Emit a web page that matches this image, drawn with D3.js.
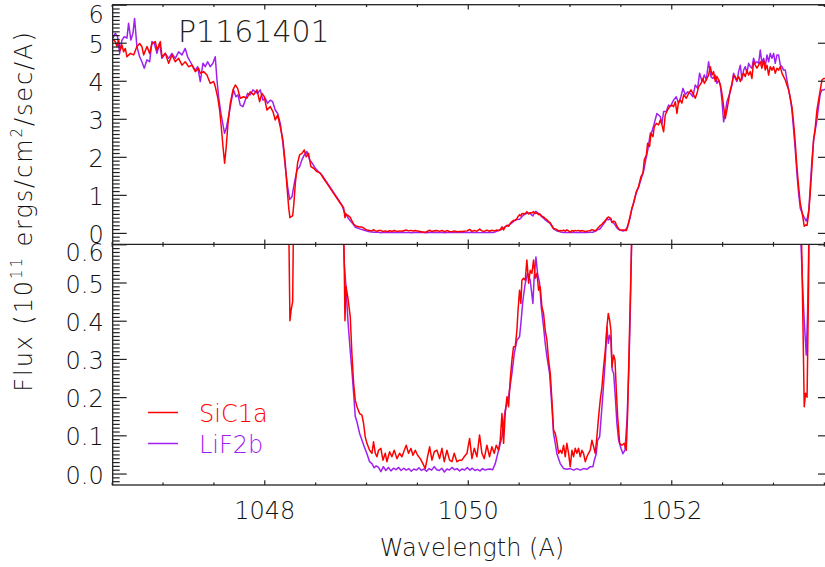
<!DOCTYPE html>
<html><head><meta charset="utf-8">
<script src="https://cdn.jsdelivr.net/npm/d3@7"></script>
<style>body{margin:0;background:#fff}svg{display:block}</style>
</head><body><svg id="chart" width="825" height="567"></svg>
<script>
// ---------------- DATA ----------------
const sicWave = [
1046.512,1046.535,1046.552,1046.568,1046.585,1046.601,1046.617,1046.634,1046.650,1046.683,
1046.716,1046.748,1046.775,1046.797,1046.814,1046.847,1046.873,1046.896,1046.929,1046.945,
1046.978,1046.994,1047.027,1047.060,1047.092,1047.125,1047.158,1047.191,1047.223,1047.256,
1047.289,1047.322,1047.354,1047.371,1047.404,1047.436,1047.469,1047.502,1047.518,1047.541,
1047.561,1047.577,1047.594,1047.610,1047.626,1047.643,1047.666,1047.692,1047.715,1047.738,
1047.764,1047.797,1047.829,1047.862,1047.895,1047.928,1047.954,1047.977,1048.000,1048.026,
1048.059,1048.085,1048.108,1048.131,1048.157,1048.183,1048.206,1048.223,1048.240,1048.252,
1048.265,1048.279,1048.290,1048.305,1048.327,1048.347,1048.370,1048.393,1048.412,1048.435,
1048.458,1048.485,1048.517,1048.550,1048.583,1048.616,1048.648,1048.681,1048.714,1048.747,
1048.780,1048.793,1048.803,1048.822,1048.845,1048.861,1048.878,1048.894,1048.911,1048.937,
1048.960,1048.976,1048.992,1049.009,1049.035,1049.058,1049.074,1049.091,1049.107,1049.123,
1049.146,1049.166,1049.189,1049.205,1049.232,1049.254,1049.277,1049.304,1049.330,1049.353,
1049.376,1049.395,1049.418,1049.441,1049.461,1049.484,1049.507,1049.533,1049.559,1049.582,
1049.605,1049.625,1049.648,1049.671,1049.697,1049.723,1049.746,1049.769,1049.795,1049.821,
1049.844,1049.867,1049.893,1049.920,1049.942,1049.965,1049.992,1050.018,1050.041,1050.064,
1050.090,1050.116,1050.139,1050.162,1050.188,1050.214,1050.237,1050.260,1050.280,1050.303,
1050.319,1050.336,1050.352,1050.368,1050.385,1050.401,1050.417,1050.434,1050.450,1050.467,
1050.483,1050.493,1050.509,1050.522,1050.532,1050.548,1050.565,1050.581,1050.598,1050.614,
1050.630,1050.647,1050.663,1050.680,1050.696,1050.712,1050.729,1050.745,1050.761,1050.778,
1050.794,1050.811,1050.827,1050.843,1050.860,1050.876,1050.893,1050.909,1050.925,1050.942,
1050.958,1050.974,1050.991,1051.007,1051.024,1051.040,1051.056,1051.073,1051.089,1051.105,
1051.122,1051.138,1051.155,1051.171,1051.187,1051.204,1051.220,1051.237,1051.253,1051.269,
1051.286,1051.302,1051.319,1051.335,1051.352,1051.368,1051.381,1051.394,1051.407,1051.417,
1051.434,1051.447,1051.460,1051.473,1051.493,1051.515,1051.538,1051.558,1051.571,1051.584,
1051.597,1051.614,1051.630,1051.656,1051.679,1051.702,1051.722,1051.735,1051.755,1051.768,
1051.787,1051.801,1051.820,1051.833,1051.853,1051.876,1051.892,1051.909,1051.925,1051.941,
1051.964,1051.984,1052.007,1052.023,1052.040,1052.056,1052.072,1052.089,1052.105,1052.122,
1052.148,1052.171,1052.194,1052.220,1052.236,1052.253,1052.269,1052.292,1052.312,1052.325,
1052.344,1052.367,1052.384,1052.400,1052.416,1052.433,1052.449,1052.466,1052.482,1052.498,
1052.515,1052.531,1052.547,1052.564,1052.580,1052.597,1052.613,1052.629,1052.646,1052.662,
1052.679,1052.695,1052.711,1052.728,1052.744,1052.760,1052.777,1052.793,1052.809,1052.826,
1052.842,1052.859,1052.875,1052.891,1052.908,1052.924,1052.941,1052.957,1052.973,1052.990,
1053.006,1053.022,1053.039,1053.055,1053.072,1053.088,1053.104,1053.121,1053.137,1053.154,
1053.170,1053.186,1053.203,1053.219,1053.235,1053.252,1053.268,1053.285,1053.300,1053.307,
1053.320,1053.335,1053.350,1053.366,1053.383,1053.399,1053.416,1053.432,1053.448,1053.465,
1053.481,1053.498,1053.540,1053.580];
const sicFlux = [
5.09,5.03,4.90,5.07,4.81,4.94,4.76,4.85,4.63,4.72,
4.68,4.90,4.98,4.90,4.68,4.90,4.72,4.98,5.03,4.81,
5.03,4.63,4.72,4.46,4.68,4.50,4.59,4.41,4.50,4.37,
4.41,4.24,4.33,4.20,4.24,4.15,3.93,3.98,3.85,3.58,
3.23,2.79,2.27,1.83,2.27,2.88,3.41,3.76,3.89,3.80,
3.54,3.58,3.54,3.71,3.63,3.76,3.45,3.67,3.58,3.23,
3.32,3.19,2.97,3.10,2.79,2.44,1.83,1.22,0.66,0.40,
0.43,0.45,0.75,1.30,1.83,2.05,2.09,2.18,2.00,2.09,
1.74,1.70,1.61,1.57,1.43,1.30,1.17,1.04,0.91,0.78,
0.66,0.40,0.49,0.46,0.41,0.314,0.236,0.192,0.175,0.157,
0.153,0.131,0.096,0.079,0.061,0.053,0.083,0.053,0.044,0.061,
0.066,0.035,0.053,0.031,0.057,0.044,0.061,0.039,0.053,0.044,
0.061,0.074,0.053,0.066,0.048,0.061,0.048,0.039,0.026,0.013,
0.044,0.070,0.035,0.057,0.061,0.039,0.066,0.031,0.061,0.035,
0.031,0.053,0.031,0.035,0.035,0.044,0.053,0.092,0.039,0.066,
0.044,0.101,0.053,0.039,0.074,0.044,0.070,0.053,0.074,0.061,
0.087,0.157,0.079,0.157,0.201,0.175,0.245,0.297,0.332,0.332,
0.375,0.423,0.480,0.445,0.506,0.511,0.506,0.559,0.498,0.532,
0.524,0.559,0.511,0.524,0.480,0.489,0.436,0.419,0.375,0.349,
0.297,0.262,0.192,0.114,0.105,0.083,0.053,0.061,0.053,0.074,
0.044,0.079,0.053,0.018,0.061,0.044,0.066,0.053,0.066,0.044,
0.061,0.053,0.031,0.044,0.053,0.061,0.087,0.070,0.053,0.096,
0.149,0.192,0.227,0.279,0.323,0.384,0.419,0.402,0.375,0.279,
0.310,0.297,0.218,0.149,0.079,0.074,0.079,0.061,0.157,0.306,
0.454,0.65,0.78,1.08,1.22,1.48,1.57,1.92,2.05,2.36,
2.27,2.62,2.53,2.79,2.88,2.84,2.97,2.84,2.66,3.10,
3.23,3.32,3.36,3.32,3.45,3.14,3.45,3.49,3.41,3.63,
3.54,3.67,3.76,3.63,3.54,3.67,3.84,3.93,4.06,3.93,
4.02,4.15,4.37,4.15,4.24,3.98,4.11,4.02,3.89,3.67,
3.32,3.01,3.23,3.49,3.76,3.93,4.15,4.11,4.02,4.11,
3.98,4.11,4.20,4.11,4.28,4.15,4.24,4.06,4.50,4.41,
4.33,4.41,4.50,4.33,4.55,4.28,4.41,4.15,4.37,4.28,
4.37,4.20,4.33,4.28,4.37,4.20,4.11,4.02,3.89,3.76,
3.54,3.32,2.88,2.36,1.74,1.22,0.78,0.55,0.30,0.175,
0.21,0.20,0.50,1.04,1.74,2.44,2.79,3.23,3.49,3.76,
4.02,4.06,4.05,4.00];

const lifWave = [
1046.512,1046.535,1046.558,1046.578,1046.601,1046.624,1046.650,1046.666,1046.689,1046.709,
1046.725,1046.748,1046.775,1046.797,1046.820,1046.847,1046.873,1046.896,1046.919,1046.945,
1046.971,1046.994,1047.027,1047.060,1047.092,1047.125,1047.158,1047.191,1047.223,1047.246,
1047.273,1047.299,1047.322,1047.345,1047.371,1047.397,1047.420,1047.443,1047.469,1047.495,
1047.518,1047.535,1047.551,1047.574,1047.594,1047.610,1047.626,1047.649,1047.672,1047.698,
1047.721,1047.741,1047.764,1047.790,1047.813,1047.836,1047.862,1047.888,1047.911,1047.934,
1047.960,1047.987,1048.010,1048.032,1048.059,1048.082,1048.108,1048.131,1048.157,1048.183,
1048.206,1048.229,1048.249,1048.272,1048.295,1048.321,1048.347,1048.370,1048.393,1048.419,
1048.446,1048.472,1048.501,1048.534,1048.567,1048.599,1048.632,1048.665,1048.698,1048.730,
1048.763,1048.786,1048.803,1048.822,1048.845,1048.861,1048.878,1048.894,1048.911,1048.937,
1048.960,1048.983,1049.009,1049.035,1049.058,1049.080,1049.100,1049.123,1049.146,1049.170,
1049.195,1049.220,1049.245,1049.270,1049.295,1049.320,1049.345,1049.370,1049.395,1049.420,
1049.445,1049.470,1049.495,1049.520,1049.545,1049.570,1049.595,1049.620,1049.645,1049.670,
1049.695,1049.720,1049.745,1049.770,1049.795,1049.820,1049.845,1049.870,1049.895,1049.920,
1049.945,1049.970,1049.995,1050.020,1050.045,1050.070,1050.095,1050.120,1050.145,1050.170,
1050.195,1050.220,1050.245,1050.270,1050.303,1050.336,1050.368,1050.401,1050.434,1050.457,
1050.483,1050.509,1050.522,1050.542,1050.565,1050.588,1050.614,1050.640,1050.653,1050.670,
1050.686,1050.706,1050.722,1050.745,1050.761,1050.778,1050.804,1050.827,1050.843,1050.860,
1050.876,1050.909,1050.942,1050.974,1051.007,1051.040,1051.073,1051.105,1051.138,1051.171,
1051.204,1051.230,1051.244,1051.263,1051.276,1051.296,1051.309,1051.329,1051.352,1051.368,
1051.381,1051.394,1051.407,1051.420,1051.434,1051.450,1051.466,1051.483,1051.506,1051.525,
1051.545,1051.565,1051.584,1051.597,1051.614,1051.630,1051.656,1051.679,1051.702,1051.728,
1051.748,1051.771,1051.794,1051.810,1051.833,1051.859,1051.892,1051.909,1051.925,1051.951,
1051.974,1051.991,1052.023,1052.049,1052.072,1052.095,1052.115,1052.138,1052.161,1052.187,
1052.213,1052.236,1052.259,1052.279,1052.302,1052.325,1052.344,1052.367,1052.390,1052.410,
1052.433,1052.449,1052.466,1052.482,1052.498,1052.515,1052.531,1052.547,1052.564,1052.580,
1052.597,1052.613,1052.629,1052.646,1052.662,1052.679,1052.695,1052.711,1052.728,1052.744,
1052.760,1052.777,1052.793,1052.809,1052.826,1052.842,1052.859,1052.875,1052.891,1052.908,
1052.924,1052.941,1052.957,1052.973,1052.990,1053.006,1053.022,1053.039,1053.055,1053.072,
1053.088,1053.104,1053.121,1053.137,1053.154,1053.170,1053.186,1053.203,1053.219,1053.235,
1053.252,1053.268,1053.290,1053.307,1053.327,1053.340,1053.353,1053.366,1053.383,1053.399,
1053.416,1053.432,1053.448,1053.465,1053.481,1053.498,1053.540,1053.580];
const lifFlux = [
5.12,5.25,5.16,4.72,5.07,5.16,5.12,5.51,5.07,5.25,
5.64,4.90,4.63,4.50,4.33,4.55,4.50,5.03,4.98,4.72,
4.98,4.59,4.72,4.59,4.72,4.59,4.76,4.68,4.85,4.63,
4.50,4.37,4.28,4.37,3.98,4.46,4.37,4.50,4.37,4.46,
4.63,4.02,3.58,3.14,2.84,2.62,2.75,3.06,3.41,3.76,
3.58,3.63,3.36,3.32,3.49,3.67,3.63,3.76,3.71,3.67,
3.76,3.49,3.54,3.41,3.49,3.45,3.23,3.14,2.88,2.36,
1.74,1.22,0.88,0.95,1.30,1.65,1.74,1.92,2.05,2.14,
1.92,1.83,1.70,1.61,1.52,1.39,1.26,1.13,1.00,0.87,
0.73,0.55,0.49,0.40,0.32,0.27,0.21,0.15,0.135,0.105,
0.087,0.070,0.052,0.031,0.026,0.015,0.020,0.016,0.005,0.018,
0.008,0.016,0.007,0.014,0.010,0.016,0.008,0.014,0.009,0.013,
0.006,0.012,0.009,0.015,0.008,0.012,0.006,0.013,0.009,0.018,
0.010,0.008,0.014,0.004,0.012,0.009,0.016,0.010,0.013,0.007,
0.012,0.009,0.016,0.009,0.014,0.008,0.011,0.007,0.013,0.009,
0.011,0.012,0.010,0.026,0.061,0.096,0.166,0.201,0.262,0.314,
0.349,0.358,0.393,0.454,0.498,0.524,0.506,0.445,0.515,0.567,
0.524,0.498,0.436,0.384,0.341,0.306,0.262,0.175,0.105,0.079,
0.052,0.026,0.013,0.011,0.013,0.009,0.013,0.009,0.013,0.011,
0.018,0.018,0.035,0.052,0.087,0.096,0.140,0.210,0.297,0.384,
0.341,0.362,0.349,0.271,0.262,0.201,0.131,0.087,0.066,0.052,
0.061,0.140,0.279,0.419,0.65,0.80,1.05,1.20,1.40,1.62,
1.90,2.20,2.62,2.66,2.88,3.14,3.06,2.88,3.19,3.19,
3.36,3.32,3.49,3.58,3.41,3.58,3.80,3.63,3.71,3.67,
3.58,3.89,3.80,4.20,3.98,4.15,4.02,4.50,4.11,4.06,
4.15,3.93,4.02,3.89,3.49,2.92,3.14,3.45,3.58,3.71,
3.89,4.20,4.06,3.98,4.24,4.41,4.02,4.28,4.37,4.20,
4.46,4.37,4.33,4.59,4.46,4.50,4.46,4.81,4.46,4.59,
4.37,4.68,4.50,4.72,4.59,4.72,4.46,4.68,4.68,4.41,
4.37,4.28,4.28,4.02,3.76,3.54,3.23,2.71,2.18,1.57,
1.04,0.65,0.50,0.40,0.31,0.42,0.62,1.22,1.92,2.44,
2.71,2.97,3.32,3.67,3.76,3.76,3.80,3.85];

const seriesNames = ["SiC1a", "LiF2b"];
const seriesColors = ["#ff0000", "#a020f0"];
const xMajorTicks = [1048, 1050, 1052];
const xTickLabels = ["1048", "1050", "1052"];
const topMajorTicks = [0, 1, 2, 3, 4, 5, 6];
const topTickLabels = ["0", "1", "2", "3", "4", "5", "6"];
const botMajorTicks = [0, 0.1, 0.2, 0.3, 0.4, 0.5, 0.6];
const botTickLabels = ["0.0", "0.1", "0.2", "0.3", "0.4", "0.5", "0.6"];
const titleText = "P1161401";
const xTitle = "Wavelength (A)";

// ---------------- CHART ----------------
const svg = d3.select('#chart');
const FONT = "'DejaVu Sans', 'Liberation Sans', sans-serif";
const AX = "#222";
const L = 112.7, R = 832, T = 4.7, M = 244.3, B = 485;

const x = d3.scaleLinear().domain([1046.51, 1053.58]).range([L, R]);
const yTop = d3.scaleLinear().domain([-0.3, 6.0]).range([M, T]);
const yBot = d3.scaleLinear().domain([-0.03, 0.6]).range([B, M]);

const sic = sicWave.map((w, i) => [w, sicFlux[i]]).filter(d => d[1] !== undefined);
const lif = lifWave.map((w, i) => [w, lifFlux[i]]).filter(d => d[1] !== undefined);
const series = [lif, sic];            // red drawn on top
const colors = [seriesColors[1], seriesColors[0]];

const defs = svg.append('defs');
defs.append('clipPath').attr('id', 'clipTop').append('rect')
  .attr('x', L).attr('y', T).attr('width', R - L).attr('height', M - T);
defs.append('clipPath').attr('id', 'clipBot').append('rect')
  .attr('x', L).attr('y', M).attr('width', R - L).attr('height', B - M);

function drawPanel(y, clipId) {
  const g = svg.append('g').attr('clip-path', `url(#${clipId})`);
  const line = d3.line().x(d => x(d[0])).y(d => y(d[1]));
  series.forEach((s, i) => {
    g.append('path').datum(s).attr('d', line)
      .attr('fill', 'none').attr('stroke', colors[i])
      .attr('stroke-width', 1.5).attr('stroke-linejoin', 'round');
  });
}
drawPanel(yTop, 'clipTop');
drawPanel(yBot, 'clipBot');

function styleAxis(g) {
  g.select('.domain').remove();
  g.selectAll('line').attr('stroke', AX).attr('stroke-width', 1.2);
  g.selectAll('text').attr('font-family', FONT).attr('font-size', 24)
    .attr('font-weight', 300).attr('fill', '#111');
}

const xMinor = d3.range(1046.5, 1053.51, 0.5);

function xAxes(yPos, dir, withLabels) {
  const gen = dir > 0 ? d3.axisTop(x) : d3.axisBottom(x);
  const gMaj = svg.append('g').attr('transform', `translate(0,${yPos})`)
    .call(gen.tickValues(xMajorTicks).tickSizeInner(-4.8).tickSizeOuter(0)
      .tickPadding(withLabels ? 17 : 0)
      .tickFormat((d, i) => withLabels ? xTickLabels[i] : ''));
  styleAxis(gMaj);
  const gen2 = dir > 0 ? d3.axisTop(x) : d3.axisBottom(x);
  const gMin = svg.append('g').attr('transform', `translate(0,${yPos})`)
    .call(gen2.tickValues(xMinor.filter(v => !xMajorTicks.includes(v)))
      .tickSizeInner(-2.4).tickSizeOuter(0).tickFormat(''));
  styleAxis(gMin);
}
xAxes(T, 1, false);
xAxes(M, -1, false);
xAxes(M, 1, false);
xAxes(B, -1, true);

function yAxes(y, major, labels, minorStep, lo, hi, isTop) {
  const gL = svg.append('g').attr('transform', `translate(${L},0)`)
    .call(d3.axisLeft(y).tickValues(major).tickSizeInner(-14).tickSizeOuter(0)
      .tickPadding(9).tickFormat((d, i) => labels[i]));
  styleAxis(gL);
  gL.selectAll('text').attr('dy', '0.40em')
    .attr('y', d => {
      if (isTop && y(d) < 10) return 8;     // top label kept inside the picture
      if (!isTop && y(d) < M + 2) return 7; // "0.6" sits just under the shared edge
      return 0;
    });
  const minor = d3.range(lo, hi + minorStep / 2, minorStep)
    .filter(v => !major.some(m => Math.abs(m - v) < minorStep / 10));
  const gLm = svg.append('g').attr('transform', `translate(${L},0)`)
    .call(d3.axisLeft(y).tickValues(minor).tickSizeInner(-7).tickSizeOuter(0).tickFormat(''));
  styleAxis(gLm);
  const gR = svg.append('g').attr('transform', `translate(${R},0)`)
    .call(d3.axisRight(y).tickValues(major).tickSizeInner(-14).tickSizeOuter(0).tickFormat(''));
  styleAxis(gR);
  const gRm = svg.append('g').attr('transform', `translate(${R},0)`)
    .call(d3.axisRight(y).tickValues(minor).tickSizeInner(-7).tickSizeOuter(0).tickFormat(''));
  styleAxis(gRm);
}
yAxes(yTop, topMajorTicks, topTickLabels, 0.1, -0.2, 6.0, true);
yAxes(yBot, botMajorTicks, botTickLabels, 0.01, -0.02, 0.6, false);

// frame
svg.append('rect').attr('x', L).attr('y', T).attr('width', R - L).attr('height', B - T)
  .attr('fill', 'none').attr('stroke', AX).attr('stroke-width', 1.3);
svg.append('line').attr('x1', L).attr('x2', R).attr('y1', M).attr('y2', M)
  .attr('stroke', AX).attr('stroke-width', 1.3);

// title
svg.append('text').attr('x', 178).attr('y', 41.5).text(titleText)
  .attr('font-family', FONT).attr('font-size', 30).attr('font-weight', 300).attr('fill', '#222');

// x title
svg.append('text').attr('x', 472).attr('y', 556).attr('text-anchor', 'middle').text(xTitle)
  .attr('font-family', FONT).attr('font-size', 24).attr('font-weight', 300).attr('fill', '#111');

// y title
const yt = svg.append('text').attr('transform', 'translate(32,211) rotate(-90)')
  .attr('text-anchor', 'middle').attr('font-family', FONT).attr('font-size', 24)
  .attr('letter-spacing', 1.9)
  .attr('font-weight', 300).attr('fill', '#111');
yt.append('tspan').text('Flux (10');
yt.append('tspan').text('11').attr('font-size', 15).attr('dy', -10);
yt.append('tspan').text(' ergs/cm').attr('dy', 10);
yt.append('tspan').text('2').attr('font-size', 15).attr('dy', -10);
yt.append('tspan').text('/sec/A)').attr('dy', 10);

// legend
const legendY = [412.5, 443.5];
seriesNames.forEach((name, i) => {
  svg.append('line').attr('x1', 148).attr('x2', 178)
    .attr('y1', legendY[i]).attr('y2', legendY[i])
    .attr('stroke', seriesColors[i]).attr('stroke-width', 1.5);
  svg.append('text').attr('x', 199).attr('y', legendY[i] + 9).text(name)
    .attr('font-family', FONT).attr('font-size', 24).attr('font-weight', 300)
    .attr('fill', seriesColors[i]);
});
</script></body></html>
